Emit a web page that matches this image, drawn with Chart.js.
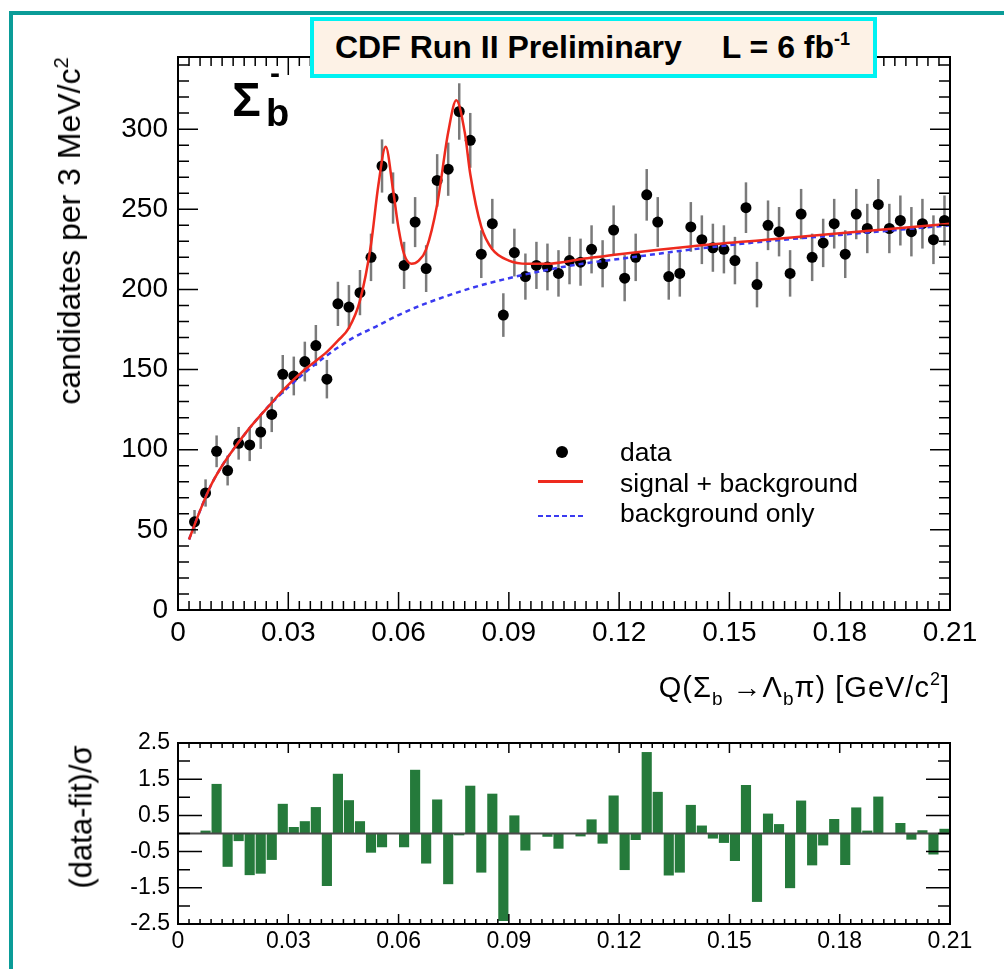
<!DOCTYPE html>
<html>
<head>
<meta charset="utf-8">
<script src="https://cdn.jsdelivr.net/npm/chart.js@4.4.0/dist/chart.umd.min.js"></script>
<style>
  body { margin: 0; background: #fff; width: 1004px; height: 969px; overflow: hidden; position: relative;
         font-family: 'Liberation Sans', Arial, Helvetica, sans-serif; color: #000; }
  #frame { position: absolute; left: 9px; top: 11px; width: 1010px; height: 980px;
           border-left: 4px solid #0a9c98; border-top: 4px solid #0a9c98; }
  canvas { position: absolute; left: 0; }
  #main { top: 0; }
  #resid { top: 700px; }
  .t { position: absolute; white-space: nowrap; line-height: 1; }
  sup, sub { line-height: 0; }
  #title { position: absolute; left: 310px; top: 17px; width: 567px; height: 61px; box-sizing: border-box;
           border: 4px solid #00f2f2; background: #fdf2e6; font-weight: bold; font-size: 32px;
           line-height: 53px; padding-left: 21px; white-space: nowrap; }
  #title sup { font-size: 18px; vertical-align: 13px; }
  .rot { transform-origin: center; }
  .leg { font-size: 26.5px; }
</style>
</head>
<body>
<div id="frame"></div>
<canvas id="main" width="1004" height="700"></canvas>
<canvas id="resid" width="1004" height="269"></canvas>

<div id="title">CDF Run II Preliminary<span style="margin-left:40px">L = 6 fb<sup>-1</sup></span></div>

<div class="t" style="left:232px; top:76px; font-size:48px; font-weight:bold;">Σ</div>
<div class="t" style="left:266px; top:94px; font-size:38px; font-weight:bold;">b</div>
<div class="t" style="left:270px; top:58px; font-size:30px; font-weight:bold;">-</div>

<div class="t rot" style="left:69px; top:231px; font-size:32px; transform: translate(-50%,-50%) rotate(-90deg);">candidates per 3 MeV/c<sup style="font-size:20px; vertical-align:12px">2</sup></div>
<div class="t rot" style="left:81px; top:817px; font-size:31px; transform: translate(-50%,-50%) rotate(-90deg);">(data-fit)/σ</div>
<div class="t" style="right:54px; top:673px; font-size:29px; letter-spacing:1px;">Q(Σ<sub style="font-size:19px; vertical-align:-8px">b</sub> →Λ<sub style="font-size:19px; vertical-align:-8px">b</sub>π) [GeV/c<sup style="font-size:18px; vertical-align:12px">2</sup>]</div>

<div style="position:absolute; left:556px; top:446px; width:12px; height:12px; border-radius:6px; background:#000;"></div>
<div style="position:absolute; left:538px; top:480px; width:45px; height:3px; background:#ee2a1e;"></div>
<div style="position:absolute; left:538px; top:515px; width:45px; height:2px; background: repeating-linear-gradient(90deg, #3a3af0 0 5px, transparent 5px 8px);"></div>
<div class="t leg" style="left:620px; top:439px;">data</div>
<div class="t leg" style="left:620px; top:470px;">signal + background</div>
<div class="t leg" style="left:620px; top:500px;">background only</div>

<script>
// Sigma_b- -> Lambda_b pi, Q value spectrum with fit and pulls
// bins are 3 MeV/c^2 wide

const binCenters = [
  0.0045, 0.0075, 0.0105, 0.0135, 0.0165, 0.0195, 0.0225, 0.0255, 0.0285, 0.0315,
  0.0345, 0.0375, 0.0405, 0.0435, 0.0465, 0.0495, 0.0525, 0.0555, 0.0585, 0.0615,
  0.0645, 0.0675, 0.0705, 0.0735, 0.0765, 0.0795, 0.0825, 0.0855, 0.0885, 0.0915,
  0.0945, 0.0975, 0.1005, 0.1035, 0.1065, 0.1095, 0.1125, 0.1155, 0.1185, 0.1215,
  0.1245, 0.1275, 0.1305, 0.1335, 0.1365, 0.1395, 0.1425, 0.1455, 0.1485, 0.1515,
  0.1545, 0.1575, 0.1605, 0.1635, 0.1665, 0.1695, 0.1725, 0.1755, 0.1785, 0.1815,
  0.1845, 0.1875, 0.1905, 0.1935, 0.1965, 0.1995, 0.2025, 0.2055, 0.2085,
]

const counts = [
  55, 73, 99, 87, 104, 103, 111, 122, 147, 146,
  155, 165, 144, 191, 189, 198, 220, 277, 257, 215,
  242, 213, 268, 275, 311, 293, 222, 241, 184, 223,
  208, 215, 214, 210, 218, 217, 225, 216, 237, 207,
  220, 259, 242, 208, 210, 239, 231, 226, 225, 218,
  251, 203, 240, 236, 210, 247, 220, 229, 241, 222,
  247, 238, 253, 238, 243, 236, 241, 231, 243,
]

const countErrs = [
  7.4, 8.5, 9.9, 9.3, 10.2, 10.1, 10.5, 11.0, 12.1, 12.1,
  12.4, 12.8, 12.0, 13.8, 13.7, 14.1, 14.8, 16.6, 16.0, 14.7,
  15.6, 14.6, 16.4, 16.6, 17.6, 17.1, 14.9, 15.5, 13.6, 14.9,
  14.4, 14.7, 14.6, 14.5, 14.8, 14.7, 15.0, 14.7, 15.4, 14.4,
  14.8, 16.1, 15.6, 14.4, 14.5, 15.5, 15.2, 15.0, 15.0, 14.8,
  15.8, 14.2, 15.5, 15.4, 14.5, 15.7, 14.8, 15.1, 15.5, 14.9,
  15.7, 15.4, 15.9, 15.4, 15.6, 15.4, 15.5, 15.2, 15.6,
]

// (data-fit)/sigma per bin
const pulls = [
  0, 0.08, 1.37, -0.92, -0.21, -1.15, -1.11, -0.73, 0.82, 0.18,
  0.34, 0.73, -1.45, 1.65, 0.92, 0.34, -0.53, -0.38, 0, -0.38,
  1.76, -0.83, 0.94, -1.40, -0.05, 1.32, -1.08, 1.10, -2.42, 0.50,
  -0.47, 0, -0.09, -0.42, 0, -0.08, 0.39, -0.28, 1.05, -1.01,
  -0.18, 2.25, 1.15, -1.16, -1.08, 0.79, 0.22, -0.14, -0.26, -0.76,
  1.34, -1.89, 0.55, 0.26, -1.51, 0.91, -0.88, -0.33, 0.40, -0.87,
  0.72, 0.08, 1.02, 0, 0.29, -0.17, 0.09, -0.58, 0.13,
]

// signal + background curve
const fitQ = [
  0.003, 0.006, 0.009, 0.012, 0.015, 0.020, 0.025, 0.0285, 0.0345, 0.0405,
  0.0435, 0.0465, 0.0495, 0.0525, 0.0545, 0.0565, 0.0585, 0.060, 0.0615, 0.0635,
  0.0655, 0.0675, 0.0705, 0.0735, 0.0757, 0.078, 0.0795, 0.0825, 0.0855, 0.090,
  0.095, 0.100, 0.110, 0.120, 0.140, 0.160, 0.180, 0.210,
]
const fitY = [
  44, 62, 78, 90, 100, 115, 128, 137, 150, 161,
  168, 176, 193, 228, 265, 289, 262, 238, 222, 216,
  218, 225, 253, 298, 318, 298, 272, 239, 225, 218,
  216, 216, 219, 222, 227, 231, 235, 241,
]

// background only curve
const bkgQ = [
  0.003, 0.006, 0.009, 0.012, 0.015, 0.020, 0.025, 0.030, 0.035, 0.040,
  0.047, 0.054, 0.060, 0.066, 0.072, 0.080, 0.090, 0.100, 0.110, 0.120,
  0.140, 0.160, 0.180, 0.210,
]
const bkgY = [
  44, 62, 78, 90, 100, 115, 128, 139, 149, 158,
  169, 177, 184, 190, 195, 201, 207, 212, 216, 219,
  225, 230, 234, 240,
]

const FONT = "'Liberation Sans', Arial, Helvetica, sans-serif"
Chart.defaults.font.family = FONT
Chart.defaults.color = '#000'

const toXY = (xs, ys) => xs.map((x, i) => ({ x, y: ys[i] }))

// ROOT style frame with inward ticks on all four sides
const rootFrame = {
  id: 'rootFrame',
  afterDatasetsDraw(chart, args, o) {
    const { ctx, chartArea: a } = chart
    const { x, y } = chart.scales
    ctx.save()
    ctx.strokeStyle = '#000'
    ctx.lineWidth = 1.5
    ctx.beginPath()
    for (let k = 0; k <= o.xCount; k++) {
      const px = x.getPixelForValue(k * o.xStep)
      const len = k % o.xMajorEvery === 0 ? o.xMajor : o.xMinor
      ctx.moveTo(px, a.bottom)
      ctx.lineTo(px, a.bottom - len)
      ctx.moveTo(px, a.top)
      ctx.lineTo(px, a.top + len)
    }
    for (let k = 0; k <= o.yCount; k++) {
      const py = y.getPixelForValue(o.yFrom + k * o.yStep)
      const len = k % o.yMajorEvery === 0 ? o.yMajor : o.yMinor
      ctx.moveTo(a.left, py)
      ctx.lineTo(a.left + len, py)
      ctx.moveTo(a.right, py)
      ctx.lineTo(a.right - len, py)
    }
    ctx.stroke()
    ctx.lineWidth = 2
    ctx.strokeRect(a.left, a.top, a.right - a.left, a.bottom - a.top)
    ctx.restore()
  },
}

// vertical error bars under the data points
const errorBars = {
  id: 'errorBars',
  beforeDatasetsDraw(chart) {
    const { ctx } = chart
    const { x, y } = chart.scales
    ctx.save()
    ctx.strokeStyle = '#7a7a7a'
    ctx.lineWidth = 2.5
    binCenters.forEach((q, i) => {
      const px = x.getPixelForValue(q)
      ctx.beginPath()
      ctx.moveTo(px, y.getPixelForValue(counts[i] - countErrs[i]))
      ctx.lineTo(px, y.getPixelForValue(counts[i] + countErrs[i]))
      ctx.stroke()
    })
    ctx.restore()
  },
}

const qTick = v => (v === 0 ? '0' : v.toFixed(2))

const xAxis = (size, pad, h) => ({
  type: 'linear',
  min: 0,
  max: 0.21,
  offset: false,
  grid: { display: false, drawTicks: false },
  border: { display: false },
  ticks: { stepSize: 0.03, padding: pad, font: { size }, maxRotation: 0, autoSkip: false, callback: qTick },
  afterFit: s => { s.height = h },
})

new Chart(document.getElementById('main'), {
  data: {
    datasets: [
      {
        type: 'line',
        label: 'signal + background',
        data: toXY(fitQ, fitY),
        borderColor: '#ee2a1e',
        borderWidth: 2.5,
        pointRadius: 0,
        cubicInterpolationMode: 'monotone',
        order: 0,
      },
      {
        type: 'line',
        label: 'background only',
        data: toXY(bkgQ, bkgY),
        borderColor: '#3a3af0',
        borderWidth: 2.5,
        borderDash: [5, 4],
        pointRadius: 0,
        cubicInterpolationMode: 'monotone',
        order: 1,
      },
      {
        type: 'scatter',
        label: 'data',
        data: toXY(binCenters, counts),
        backgroundColor: '#000',
        borderColor: '#000',
        pointRadius: 5.5,
        pointBorderWidth: 0,
        order: 2,
      },
    ],
  },
  options: {
    responsive: false,
    animation: false,
    devicePixelRatio: 1,
    layout: { padding: { left: 0, top: 57, right: 54, bottom: 0 } },
    plugins: {
      legend: { display: false },
      tooltip: { enabled: false },
      rootFrame: { xStep: 0.003, xCount: 70, xMajorEvery: 10, xMajor: 18, xMinor: 9,
                   yFrom: 0, yStep: 10, yCount: 34, yMajorEvery: 5, yMajor: 20, yMinor: 11 },
    },
    scales: {
      x: xAxis(28, 6, 90),
      y: {
        min: 0,
        max: 345,
        grid: { display: false, drawTicks: false },
        border: { display: false },
        ticks: { stepSize: 50, padding: 10, font: { size: 28 }, includeBounds: false },
        afterFit: s => { s.width = 178 },
      },
    },
  },
  plugins: [errorBars, rootFrame],
})

new Chart(document.getElementById('resid'), {
  data: {
    datasets: [
      {
        type: 'line',
        label: 'zero',
        data: [{ x: 0, y: 0 }, { x: 0.21, y: 0 }],
        borderColor: '#4a4a4a',
        borderWidth: 2,
        pointRadius: 0,
        order: 0,
      },
      {
        type: 'bar',
        label: 'pulls',
        data: toXY(binCenters, pulls),
        backgroundColor: '#257a3b',
        barPercentage: 0.92,
        categoryPercentage: 1,
        order: 1,
      },
    ],
  },
  options: {
    responsive: false,
    animation: false,
    devicePixelRatio: 1,
    layout: { padding: { left: 0, top: 43, right: 54, bottom: 0 } },
    plugins: {
      legend: { display: false },
      tooltip: { enabled: false },
      rootFrame: { xStep: 0.003, xCount: 70, xMajorEvery: 10, xMajor: 10, xMinor: 5,
                   yFrom: -2.5, yStep: 0.5, yCount: 10, yMajorEvery: 2, yMajor: 24, yMinor: 12 },
    },
    scales: {
      x: xAxis(23, 4, 45),
      y: {
        min: -2.5,
        max: 2.5,
        grid: { display: false, drawTicks: false },
        border: { display: false },
        ticks: { stepSize: 1, padding: 8, font: { size: 23 }, callback: v => v.toFixed(1) },
        afterFit: s => { s.width = 178 },
      },
    },
  },
  plugins: [rootFrame],
})
</script>
</body>
</html>
